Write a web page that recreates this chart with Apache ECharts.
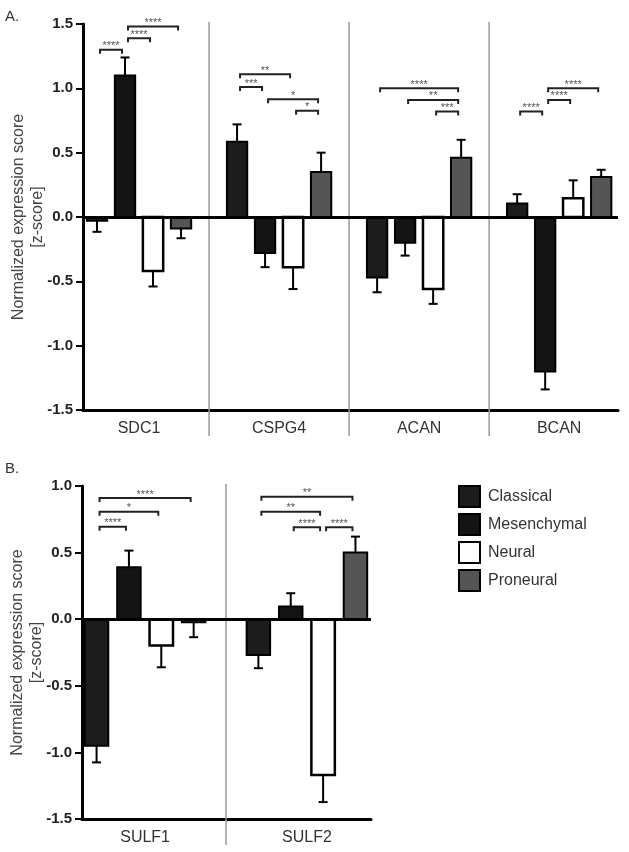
<!DOCTYPE html>
<html>
<head>
<meta charset="utf-8">
<script src="https://cdn.jsdelivr.net/npm/echarts@6/dist/echarts.min.js"></script>
<style>html,body{margin:0;padding:0;background:#fff}#c{width:629px;height:852px}</style>
</head>
<body>
<div id="c"></div>
<script>
// ---- data ----
const categoriesA = ['SDC1', 'CSPG4', 'ACAN', 'BCAN'];
const categoriesB = ['SULF1', 'SULF2'];
const subtypes = ['Classical', 'Mesenchymal', 'Neural', 'Proneural'];

const classicalA = [-0.03, 0.585, -0.47, 0.105];
const classicalErrA = [0.085, 0.135, 0.115, 0.072];
const mesenchymalA = [1.10, -0.28, -0.20, -1.20];
const mesenchymalErrA = [0.14, 0.11, 0.10, 0.14];
const neuralA = [-0.42, -0.39, -0.56, 0.145];
const neuralErrA = [0.12, 0.17, 0.115, 0.14];
const proneuralA = [-0.09, 0.35, 0.46, 0.31];
const proneuralErrA = [0.075, 0.15, 0.14, 0.057];

const classicalB = [-0.95, -0.268];
const classicalErrB = [0.125, 0.10];
const mesenchymalB = [0.39, 0.095];
const mesenchymalErrB = [0.125, 0.10];
const neuralB = [-0.198, -1.17];
const neuralErrB = [0.163, 0.203];
const proneuralB = [-0.022, 0.50];
const proneuralErrB = [0.113, 0.12];

// significance brackets: [category, fromSubtype, toSubtype, level, label]
const bracketsA = [
  [0, 0, 1, 1.30, '****'], [0, 1, 2, 1.39, '****'], [0, 1, 3, 1.48, '****'],
  [1, 0, 2, 1.11, '**'], [1, 0, 1, 1.01, '***'], [1, 1, 3, 0.915, '*'], [1, 2, 3, 0.826, '*'],
  [2, 0, 3, 1.00, '****'], [2, 1, 3, 0.91, '**'], [2, 2, 3, 0.82, '***'],
  [3, 0, 1, 0.82, '****'], [3, 1, 2, 0.91, '****'], [3, 1, 3, 1.00, '****']
];
const bracketsB = [
  [0, 0, 1, 0.695, '****'], [0, 0, 2, 0.807, '*'], [0, 0, 3, 0.91, '****'],
  [1, 0, 3, 0.92, '**'], [1, 0, 2, 0.807, '**'], [1, 1, 2, 0.69, '****'], [1, 2, 3, 0.69, '****']
];

const yMin = -1.5, yMaxA = 1.5, yMaxB = 1.0, yStep = 0.5;

// ---- styling ----
const FONT = 'Liberation Sans, Arial, sans-serif';
const fills = ['#1c1c1c', '#141414', '#ffffff', '#555555'];
const offsets = [-0.3, -0.1, 0.1, 0.3];
const barW = 0.145;

const valuesA = [classicalA, mesenchymalA, neuralA, proneuralA];
const errsA = [classicalErrA, mesenchymalErrA, neuralErrA, proneuralErrA];
const valuesB = [classicalB, mesenchymalB, neuralB, proneuralB];
const errsB = [classicalErrB, mesenchymalErrB, neuralErrB, proneuralErrB];

function barRender(k) {
  return function (params, api) {
    const c = api.value(0), v = api.value(1), e = api.value(2);
    const x = c + offsets[k];
    const p1 = api.coord([x - barW / 2, v]);
    const p2 = api.coord([x + barW / 2, 0]);
    const top = Math.min(p1[1], p2[1]), h = Math.abs(p1[1] - p2[1]);
    const pc = api.coord([x, v]);
    const pe = api.coord([x, v + (v >= 0 ? e : -e)]);
    return {
      type: 'group',
      children: [
        { type: 'line', shape: { x1: pc[0], y1: pc[1], x2: pe[0], y2: pe[1] }, style: { stroke: '#000', lineWidth: 2 } },
        { type: 'line', shape: { x1: pe[0] - 4.5, y1: pe[1], x2: pe[0] + 4.5, y2: pe[1] }, style: { stroke: '#000', lineWidth: 2 } },
        { type: 'rect', shape: { x: p1[0], y: top, width: p2[0] - p1[0], height: h },
          style: { fill: fills[k], stroke: '#000', lineWidth: k === 2 ? 2.5 : 2 } }
      ]
    };
  };
}

function bracketRender(list) {
  return function (params, api) {
    const row = list[params.dataIndex];
    const c = api.value(0), f = api.value(1), t = api.value(2), lv = api.value(3);
    const a = api.coord([c + offsets[f], lv]);
    const b = api.coord([c + offsets[t], lv]);
    const x1 = a[0] + 3, x2 = b[0] - 3, y = a[1];
    return {
      type: 'group',
      children: [
        { type: 'polyline', shape: { points: [[x1, y + 4], [x1, y], [x2, y], [x2, y + 4]] },
          style: { stroke: '#222', lineWidth: 2, fill: null } },
        { type: 'text', style: { text: row[4], x: (x1 + x2) / 2, y: y - 3.5, align: 'center', verticalAlign: 'middle',
          fontSize: 11, fontFamily: FONT, fill: '#555' } }
      ]
    };
  };
}

function sepRender(params, api) {
  const x = api.value(0);
  const t = api.coord([x, api.value(1)]);
  const b = api.coord([x, yMin]);
  return { type: 'line', shape: { x1: t[0], y1: t[1] - 2, x2: b[0], y2: b[1] + 26 }, style: { stroke: '#9a9a9a', lineWidth: 1.5 } };
}

function panelSeries(idx, cats, values, errs, brackets, yMax) {
  const out = [];
  const seps = [];
  for (let i = 0; i < cats.length - 1; i++) seps.push([i + 0.5, yMax]);
  out.push({ type: 'custom', xAxisIndex: idx, yAxisIndex: idx, data: seps, encode: { x: 0, y: 1 },
    renderItem: sepRender, silent: true, z: 1 });
  subtypes.forEach(function (name, k) {
    const data = cats.map(function (_, i) { return [i, values[k][i], errs[k][i]]; });
    const s = { type: 'custom', name: name, xAxisIndex: idx, yAxisIndex: idx, data: data,
      encode: { x: 0, y: 1 }, renderItem: barRender(k), z: 3,
      itemStyle: { color: fills[k], borderColor: '#000', borderWidth: 2 } };
    if (k === 0) {
      s.markLine = { silent: true, symbol: ['none', 'none'], label: { show: false },
        lineStyle: { color: '#000', width: 3, type: 'solid' }, data: [{ yAxis: 0 }], z: 4 };
    }
    out.push(s);
  });
  out.push({ type: 'custom', xAxisIndex: idx, yAxisIndex: idx,
    data: brackets.map(function (r) { return [r[0], r[1], r[2], r[3]]; }),
    encode: { x: 0, y: 3 }, renderItem: bracketRender(brackets), silent: true, z: 5 });
  return out;
}

function xAxisCfg(idx, cats, min, max) {
  return {
    type: 'value', gridIndex: idx, min: min, max: max, position: 'bottom',
    axisLine: { show: true, onZero: false, lineStyle: { color: '#000', width: 3 } },
    axisTick: { show: false }, splitLine: { show: false },
    axisLabel: { customValues: cats.map(function (_, i) { return i; }),
      formatter: function (v) { return cats[Math.round(v)]; },
      fontSize: 16, fontFamily: FONT, color: '#333', margin: 11 }
  };
}
function yAxisCfg(idx, yMax) {
  return {
    type: 'value', gridIndex: idx, min: yMin, max: yMax, interval: yStep, position: 'left',
    axisLine: { show: true, onZero: false, lineStyle: { color: '#000', width: 3 } },
    axisTick: { show: true, length: 7, lineStyle: { color: '#000', width: 2 } },
    splitLine: { show: false },
    axisLabel: { formatter: function (v) { return v.toFixed(1); }, fontSize: 15, fontWeight: 'bold',
      fontFamily: FONT, color: '#222', margin: 10 },
    name: 'Normalized expression score\n[z-score]', nameLocation: 'middle', nameRotate: 90, nameGap: 36,
    nameMoveOverlap: false,
    nameTextStyle: { fontSize: 16, fontFamily: FONT, color: '#444', lineHeight: 19 }
  };
}

const chart = echarts.init(document.getElementById('c'), null, { renderer: 'canvas' });
chart.setOption({
  animation: false,
  backgroundColor: '#fff',
  title: [
    { text: 'A.', left: 0, top: 4, textStyle: { fontSize: 15, fontWeight: 'normal', fontFamily: FONT, color: '#333' } },
    { text: 'B.', left: 0, top: 456, textStyle: { fontSize: 15, fontWeight: 'normal', fontFamily: FONT, color: '#333' } }
  ],
  legend: {
    orient: 'vertical', left: 458, top: 485, padding: 0, itemWidth: 21, itemHeight: 21, itemGap: 5,
    icon: 'rect', data: subtypes, selectedMode: false,
    itemStyle: { borderColor: '#000', borderWidth: 2 },
    textStyle: { fontSize: 16, fontFamily: FONT, color: '#333', padding: [0, 0, 0, 3] }
  },
  grid: [
    { left: 83, right: 11, top: 24, bottom: 442, containLabel: false, outerBoundsMode: 'none' },
    { left: 82, right: 258, top: 486, bottom: 33, containLabel: false, outerBoundsMode: 'none' }
  ],
  xAxis: [xAxisCfg(0, categoriesA, -0.4, 3.42), xAxisCfg(1, categoriesB, -0.39, 1.396)],
  yAxis: [yAxisCfg(0, yMaxA), yAxisCfg(1, yMaxB)],
  series: panelSeries(0, categoriesA, valuesA, errsA, bracketsA, yMaxA)
    .concat(panelSeries(1, categoriesB, valuesB, errsB, bracketsB, yMaxB))
});
</script>
</body>
</html>
